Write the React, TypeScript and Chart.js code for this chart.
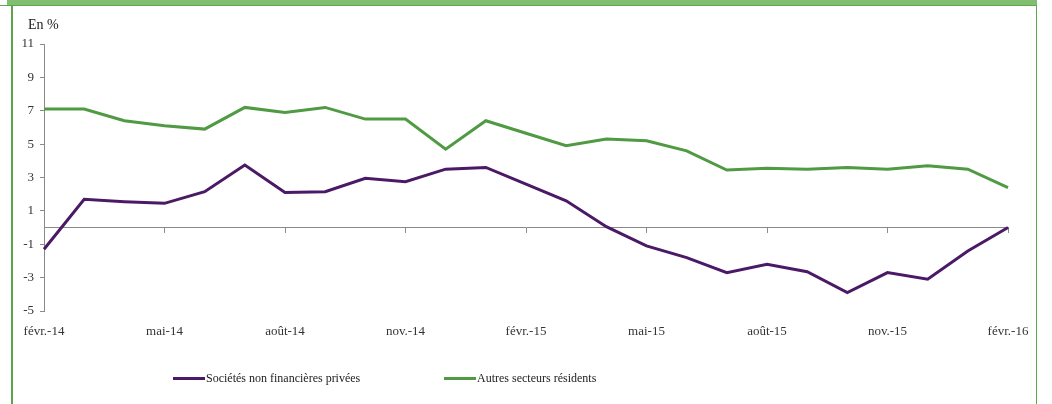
import React, { useEffect, useRef } from "react";
import { Chart, registerables } from "chart.js";

Chart.register(...registerables);

const months = [
  "févr.-14", "mars-14", "avr.-14", "mai-14", "juin-14", "juil.-14", "août-14", "sept.-14",
  "oct.-14", "nov.-14", "déc.-14", "janv.-15", "févr.-15", "mars-15", "avr.-15", "mai-15",
  "juin-15", "juil.-15", "août-15", "sept.-15", "oct.-15", "nov.-15", "déc.-15", "janv.-16", "févr.-16",
];

const societes = [
  -1.3, 1.7, 1.55, 1.45, 2.15, 3.75, 2.1, 2.15, 2.95, 2.75, 3.5, 3.6, 2.6,
  1.6, 0.05, -1.1, -1.8, -2.7, -2.2, -2.65, -3.9, -2.7, -3.1, -1.4, 0.0,
];

const autres = [
  7.1, 7.1, 6.4, 6.1, 5.9, 7.2, 6.9, 7.2, 6.5, 6.5, 4.7, 6.4, 5.65,
  4.9, 5.3, 5.2, 4.6, 3.45, 3.55, 3.5, 3.6, 3.5, 3.7, 3.5, 2.4,
];

const seriesNames = ["Sociétés non financières privées", "Autres secteurs résidents"];
const yMin = -5;
const yMax = 11;
const yStep = 2;

const PURPLE = "#4b1a66";
const GREEN = "#4f9a43";
const FONT = "'Liberation Serif', 'Times New Roman', serif";

export default function App() {
  const canvasRef = useRef<HTMLCanvasElement | null>(null);

  useEffect(() => {
    if (!canvasRef.current) return;
    const chart = new Chart(canvasRef.current, {
      type: "line",
      data: {
        labels: months,
        datasets: [
          {
            label: seriesNames[0],
            data: societes,
            borderColor: PURPLE,
            backgroundColor: PURPLE,
            borderWidth: 3,
            pointRadius: 0,
            tension: 0,
            xAxisID: "x",
          },
          {
            label: seriesNames[1],
            data: autres,
            borderColor: GREEN,
            backgroundColor: GREEN,
            borderWidth: 3,
            pointRadius: 0,
            tension: 0,
            xAxisID: "x",
          },
        ],
      },
      options: {
        responsive: false,
        animation: false,
        layout: { padding: { left: 0, right: 44, top: 44, bottom: 0 } },
        plugins: {
          legend: { display: false },
          tooltip: { enabled: false },
        },
        scales: {
          x: {
            type: "category",
            position: { y: 0 },
            ticks: { display: false, autoSkip: false },
            grid: {
              drawOnChartArea: false,
              drawTicks: true,
              tickLength: 5,
              color: (ctx: any) => (ctx.index % 3 === 0 ? "#8a8a8a" : "rgba(0,0,0,0)"),
            },
            border: { display: true, color: "#8a8a8a", width: 1 },
          },
          x2: {
            type: "category",
            position: "bottom",
            grid: { display: false, drawTicks: false },
            border: { display: false },
            ticks: {
              autoSkip: false,
              maxRotation: 0,
              minRotation: 0,
              padding: 13,
              color: "#333333",
              font: { family: FONT, size: 13 },
              callback: (_v: any, i: number) => (i % 3 === 0 ? months[i] : ""),
            },
            afterFit: (scale: any) => {
              scale.height = 404 - 311;
            },
          },
          y: {
            min: yMin,
            max: yMax,
            ticks: {
              stepSize: yStep,
              padding: 6,
              color: "#333333",
              font: { family: FONT, size: 13 },
            },
            grid: {
              drawOnChartArea: false,
              drawTicks: true,
              tickLength: 4,
              color: "#8a8a8a",
            },
            border: { display: true, color: "#8a8a8a", width: 1 },
            afterFit: (scale: any) => {
              scale.width = 44;
            },
          },
        },
      },
    });
    return () => chart.destroy();
  }, []);

  const legendItem = (color: string, text: string, left: number) => (
    <div
      style={{
        position: "absolute",
        left,
        top: 370,
        height: 16,
        display: "flex",
        alignItems: "center",
        fontFamily: FONT,
        fontSize: 12,
        color: "#222",
        whiteSpace: "nowrap",
      }}
    >
      <span style={{ display: "inline-block", width: 32, height: 3, background: color, marginRight: 1 }} />
      <span>{text}</span>
    </div>
  );

  return (
    <div style={{ position: "absolute", left: 0, top: 0, width: 1052, height: 404, background: "#fff", overflow: "hidden" }}>
      <div style={{ position: "absolute", left: 7, top: 0, width: 1030, height: 5, background: "#80bf6f", borderBottom: "1px solid #5fa64f" }} />
      <div style={{ position: "absolute", left: 0, top: 5, width: 8, height: 1, background: "#5fa64f" }} />
      <div style={{ position: "absolute", left: 11, top: 6, width: 2, height: 398, background: "#5aa44a" }} />
      <div style={{ position: "absolute", left: 1036, top: 6, width: 1, height: 398, background: "#5aa44a" }} />
      <canvas ref={canvasRef} width={1052} height={404} style={{ position: "absolute", left: 0, top: 0, width: 1052, height: 404 }} />
      <div style={{ position: "absolute", left: 28, top: 17, fontFamily: FONT, fontSize: 14, color: "#222", lineHeight: "16px" }}>En %</div>
      {legendItem(PURPLE, seriesNames[0], 173)}
      {legendItem(GREEN, seriesNames[1], 444)}
    </div>
  );
}
